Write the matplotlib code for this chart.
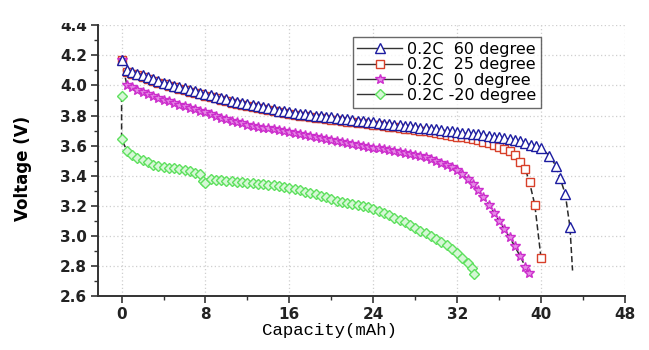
import matplotlib
matplotlib.use("Agg")
import matplotlib.pyplot as plt
from matplotlib.lines import Line2D
from matplotlib.patches import Rectangle
from matplotlib.ticker import MultipleLocator

# ---- data (capacity in mAh, voltage in V) ----
CAP_60 = [0, 0.5, 1, 1.5, 2, 2.5, 3, 3.5, 4, 4.5, 5, 5.5, 6, 6.5, 7, 7.5, 8, 8.5, 9, 9.5,
          10, 10.5, 11, 11.5, 12, 12.5, 13, 13.5, 14, 14.5, 15, 15.5, 16, 16.5, 17, 17.5,
          18, 18.5, 19, 19.5, 20, 20.5, 21, 21.5, 22, 22.5, 23, 23.5, 24, 24.5, 25, 25.5,
          26, 26.5, 27, 27.5, 28, 28.5, 29, 29.5, 30, 30.5, 31, 31.5, 32, 32.5, 33, 33.5,
          34, 34.5, 35, 35.5, 36, 36.5, 37, 37.5, 38, 38.5, 39, 39.5, 40,
          40.8, 41.4, 41.8, 42.3, 42.75]
V_60 = [4.170, 4.100, 4.090, 4.078, 4.066, 4.054, 4.042, 4.030, 4.018, 4.008, 3.999, 3.990,
        3.980, 3.971, 3.962, 3.952, 3.943, 3.934, 3.925, 3.916, 3.907, 3.898, 3.889, 3.881,
        3.874, 3.867, 3.860, 3.854, 3.847, 3.840, 3.833, 3.827, 3.821, 3.817, 3.812, 3.808,
        3.804, 3.800, 3.795, 3.791, 3.787, 3.782, 3.778, 3.774, 3.770, 3.766, 3.762, 3.758,
        3.754, 3.750, 3.746, 3.742, 3.738, 3.735, 3.731, 3.727, 3.723, 3.719, 3.715, 3.711,
        3.707, 3.703, 3.699, 3.695, 3.691, 3.687, 3.683, 3.679, 3.675, 3.671, 3.666, 3.660,
        3.654, 3.648, 3.642, 3.636, 3.629, 3.619, 3.607, 3.595, 3.583,
        3.533, 3.467, 3.385, 3.280, 3.060]
END_60 = (43.0, 2.77)   # connecting line continues below the last symbol

CAP_25 = [0, 0.5, 1, 1.5, 2, 2.5, 3, 3.5, 4, 4.5, 5, 5.5, 6, 6.5, 7, 7.5, 8, 8.5, 9, 9.5,
          10, 10.5, 11, 11.5, 12, 12.5, 13, 13.5, 14, 14.5, 15, 15.5, 16, 16.5, 17, 17.5,
          18, 18.5, 19, 19.5, 20, 20.5, 21, 21.5, 22, 22.5, 23, 23.5, 24, 24.5, 25, 25.5,
          26, 26.5, 27, 27.5, 28, 28.5, 29, 29.5, 30, 30.5, 31, 31.5, 32, 32.5, 33, 33.5,
          34, 34.5, 35, 35.5, 36, 36.5, 37, 37.5, 38, 38.5, 38.9, 39.4, 40.0]
V_25 = [4.170, 4.090, 4.078, 4.066, 4.054, 4.042, 4.030, 4.018, 4.006, 3.996, 3.987, 3.978,
        3.968, 3.959, 3.950, 3.940, 3.931, 3.922, 3.913, 3.904, 3.895, 3.886, 3.877, 3.869,
        3.862, 3.855, 3.848, 3.842, 3.835, 3.828, 3.821, 3.815, 3.809, 3.804, 3.799, 3.795,
        3.790, 3.786, 3.781, 3.777, 3.772, 3.767, 3.763, 3.759, 3.755, 3.751, 3.747, 3.743,
        3.739, 3.735, 3.730, 3.726, 3.721, 3.717, 3.712, 3.708, 3.703, 3.699, 3.694, 3.689,
        3.684, 3.679, 3.673, 3.667, 3.660, 3.654, 3.648, 3.642, 3.634, 3.626, 3.617, 3.606,
        3.594, 3.580, 3.562, 3.535, 3.490, 3.444, 3.355, 3.207, 2.850]

CAP_0 = [0, 0.5, 1, 1.5, 2, 2.5, 3, 3.5, 4, 4.5, 5, 5.5, 6, 6.5, 7, 7.5, 8, 8.5, 9, 9.5,
         10, 10.5, 11, 11.5, 12, 12.5, 13, 13.5, 14, 14.5, 15, 15.5, 16, 16.5, 17, 17.5,
         18, 18.5, 19, 19.5, 20, 20.5, 21, 21.5, 22, 22.5, 23, 23.5, 24, 24.5, 25, 25.5,
         26, 26.5, 27, 27.5, 28, 28.5, 29, 29.5, 30, 30.5, 31, 31.5, 32, 32.5, 33, 33.5,
         34, 34.5, 35, 35.5, 36, 36.5, 37, 37.5, 38, 38.5, 38.8]
V_0 = [4.170, 4.003, 3.987, 3.972, 3.957, 3.943, 3.930, 3.918, 3.906, 3.895, 3.884, 3.873,
       3.863, 3.852, 3.842, 3.831, 3.820, 3.808, 3.797, 3.786, 3.776, 3.766, 3.757, 3.748,
       3.740, 3.733, 3.726, 3.720, 3.714, 3.708, 3.702, 3.696, 3.689, 3.682, 3.675, 3.668,
       3.662, 3.655, 3.649, 3.642, 3.635, 3.629, 3.622, 3.616, 3.610, 3.604, 3.598, 3.592,
       3.587, 3.581, 3.575, 3.569, 3.563, 3.557, 3.551, 3.545, 3.539, 3.532, 3.521, 3.509,
       3.497, 3.485, 3.472, 3.456, 3.437, 3.410, 3.377, 3.342, 3.303, 3.257, 3.207, 3.155,
       3.100, 3.045, 2.990, 2.930, 2.865, 2.796, 2.755]

CAP_M20 = [0, 0, 0.5, 1, 1.5, 2, 2.5, 3, 3.5, 4, 4.5, 5, 5.5, 6, 6.5, 7, 7.5, 7.8, 8, 8.5,
           9, 9.5, 10, 10.5, 11, 11.5, 12, 12.5, 13, 13.5, 14, 14.5, 15, 15.5, 16, 16.5,
           17, 17.5, 18, 18.5, 19, 19.5, 20, 20.5, 21, 21.5, 22, 22.5, 23, 23.5, 24, 24.5,
           25, 25.5, 26, 26.5, 27, 27.5, 28, 28.5, 29, 29.5, 30, 30.5, 31, 31.5, 32, 32.5,
           33, 33.4, 33.65]
V_M20 = [3.930, 3.645, 3.565, 3.535, 3.518, 3.502, 3.488, 3.470, 3.463, 3.458, 3.453, 3.448,
         3.442, 3.435, 3.428, 3.420, 3.410, 3.365, 3.350, 3.378, 3.373, 3.370, 3.366, 3.363,
         3.360, 3.357, 3.354, 3.350, 3.347, 3.343, 3.340, 3.336, 3.332, 3.325, 3.318, 3.310,
         3.302, 3.294, 3.286, 3.278, 3.268, 3.258, 3.242, 3.232, 3.225, 3.218, 3.212, 3.205,
         3.198, 3.190, 3.178, 3.164, 3.150, 3.136, 3.121, 3.106, 3.090, 3.072, 3.053, 3.035,
         3.017, 2.998, 2.982, 2.962, 2.940, 2.915, 2.887, 2.855, 2.820, 2.785, 2.750]

LABELS = ["0.2C  60 degree", "0.2C  25 degree", "0.2C  0  degree", "0.2C -20 degree"]
X_TICKS = [0, 8, 16, 24, 32, 40, 48]
Y_TICKS = [2.6, 2.8, 3.0, 3.2, 3.4, 3.6, 3.8, 4.0, 4.2, 4.4]

# marker styles: (marker, edge colour, face colour, size)
STYLES = [("^", "#1c1ca0", "white", 6.5),
          ("s", "#d8402a", "white", 5.5),
          ("*", "#cc2ecc", "#e58be5", 7.5),
          ("D", "#5ee05e", "#d6f7d6", 5.5)]
LINE_C = "#2a2a2a"

fig = plt.figure(figsize=(6.49, 3.5), dpi=100)
ax = fig.add_axes([0.151, 0.154, 0.812, 0.774])

series = [(CAP_25, V_25, 1), (CAP_60 + [END_60[0]], V_60 + [END_60[1]], 0),
          (CAP_0, V_0, 2), (CAP_M20, V_M20, 3)]
for xs, ys, i in series:
    mk, ec, fc, ms = STYLES[i]
    ax.plot(xs, ys, color=LINE_C, lw=1.1, ls=(0, (4, 2)), zorder=2)
    n = len(CAP_60) if i == 0 else len(xs)
    ax.plot(xs[:n], ys[:n], ls="none", marker=mk, ms=ms, mec=ec, mfc=fc, mew=1.0,
            zorder=3 + (1 if i == 0 else 0))

ax.set_xlim(-2.25, 48)
ax.set_ylim(2.6, 4.4)
ax.set_xticks(X_TICKS)
ax.set_yticks(Y_TICKS)
ax.set_yticklabels([f"{v:.1f}" for v in Y_TICKS])
ax.xaxis.set_minor_locator(MultipleLocator(4))
ax.yaxis.set_minor_locator(MultipleLocator(0.1))
ax.tick_params(which="major", direction="out", length=5, width=1.2, colors="#333333", pad=3)
ax.tick_params(which="minor", direction="out", length=3, width=1, colors="#333333")
for lab in ax.get_xticklabels() + ax.get_yticklabels():
    lab.set_fontweight("bold")
    lab.set_fontsize(11)
    lab.set_color("#222222")
    lab.set_family("DejaVu Sans")

for s in ("top", "right"):
    ax.spines[s].set_visible(False)
for s in ("left", "bottom"):
    ax.spines[s].set_linewidth(1.4)
    ax.spines[s].set_color("#333333")

ax.grid(True, which="major", color="#cfcfcf", ls=(0, (1, 2)), lw=0.9)
ax.set_axisbelow(True)

ax.set_ylabel("Voltage (V)", fontsize=12, fontweight="bold", family="DejaVu Sans")
ax.yaxis.set_label_coords(-0.125, 0.47)
ax.set_xlabel("Capacity(mAh)", fontsize=12.5, family="Liberation Mono")
ax.xaxis.set_label_coords(0.44, -0.1)

handles = [Line2D([], [], color="#333333", lw=1.0, marker=m, ms=s, mec=e, mfc=f, mew=1.0)
           for m, e, f, s in STYLES]
leg = ax.legend(handles, LABELS, loc="upper right", bbox_to_anchor=(0.8406, 0.956),
                prop={"family": "DejaVu Sans", "size": 11.5}, frameon=True,
                fancybox=False, edgecolor="#444444", handlelength=2.8,
                handletextpad=0.3, labelspacing=0.02, borderpad=0.3, borderaxespad=0)
leg.get_frame().set_linewidth(1.0)

# the reference image is cut just above the top tick label
fig.add_artist(Rectangle((0, 1 - 23 / 350), 1, 23 / 350, transform=fig.transFigure,
                         facecolor="white", edgecolor="none", zorder=10))

fig.savefig("out.png", dpi=100)
